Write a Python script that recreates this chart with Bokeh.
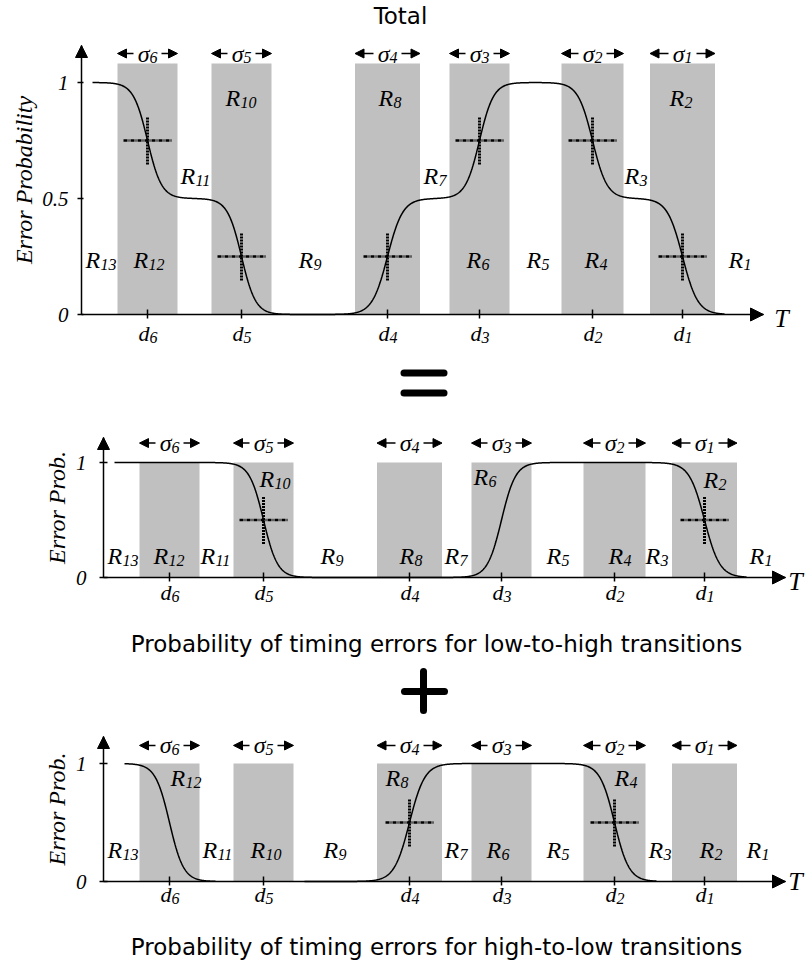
import numpy as np
from bokeh.plotting import figure
from bokeh.layouts import column
from bokeh.models import (ColumnDataSource, LabelSet, Label, Arrow, NormalHead,
                          FixedTicker, Range1d)
from bokeh.core.properties import value
from bokeh.embed import file_html
from bokeh.resources import INLINE

# ---------------- data ----------------
stage_ids = ["1", "2", "3", "4", "5", "6"]          # d1..d6 and sigma1..sigma6
d_pos = [601, 511, 398, 306, 160, 66]                # transition times d_i (T units)
sigma_w = [65, 62, 60, 65, 60, 60]                   # spread sigma_i (T units)

# transitions contained in each curve: (stage, +1 rise / -1 fall), curves start at 1
lh_steps = [("5", -1), ("3", +1), ("1", -1)]
hl_steps = [("6", -1), ("4", +1), ("2", -1)]
total_marked = ["6", "5", "4", "3", "2", "1"]
lh_marked = ["5", "1"]
hl_marked = ["4", "2"]

total_span = [(11, 643)]
lh_span = [(11, 643)]
hl_span = [(21, 112), (201, 553)]

region_ids = ["13", "12", "11", "10", "9", "8", "7", "6", "5", "4", "3", "2", "1"]
total_region_x = [4, 52, 99, 144, 217, 297, 342, 385, 445, 503, 543, 588, 647]
total_region_y = [0.233, 0.233, 0.595, 0.935, 0.233, 0.935, 0.595, 0.233, 0.233, 0.233, 0.595, 0.935, 0.233]
lh_region_x = [4, 50, 97, 156, 217, 296, 341, 370, 443, 505, 542, 600, 646]
lh_region_y = [0.185, 0.185, 0.185, 0.86, 0.185, 0.185, 0.185, 0.87, 0.185, 0.185, 0.185, 0.845, 0.185]
hl_region_x = [4, 67, 99, 147, 220, 282, 341, 383, 443, 511, 545, 596, 643]
hl_region_y = [0.271, 0.881, 0.271, 0.271, 0.271, 0.88, 0.271, 0.271, 0.271, 0.873, 0.271, 0.271, 0.271]

y_ticks_total = [0, 0.5, 1]
y_tick_labels_total = ["0", "0.5", "1"]
y_ticks_part = [0, 1]
y_tick_labels_part = ["0", "1"]

title_total = "Total"
caption_lh = "Probability of timing errors for low-to-high transitions"
caption_hl = "Probability of timing errors for high-to-low transitions"

# ---------------- style ----------------
SERIF = "Liberation Serif"
SANS = "DejaVu Sans"
BAND = "#c0c0c0"
AXIS_LEN = 682          # length of the T axis (T units == px)
FIG_W = 810


def sig(t, c, w):
    return 1.0 / (1.0 + np.exp(-(t - c) / (w / 8.5)))


def step_curve(t, steps):
    y = np.ones_like(t, dtype=float)
    for sid, sign in steps:
        i = stage_ids.index(sid)
        y = y + sign * sig(t, d_pos[i], sigma_w[i])
    return y


def lh_curve(t):
    return step_curve(t, lh_steps)


def hl_curve(t):
    return step_curve(t, hl_steps)


def total_curve(t):
    return 0.5 * (lh_curve(t) + hl_curve(t))


def sub_labels(p, xs, ys, mains, subs, ppu, main_size, sub_size, sub_dx, sub_dy_px,
               main_align="left"):
    src = ColumnDataSource(dict(
        x=list(xs), y=list(ys), t=list(mains),
        xs=[x + sub_dx for x in xs], ys=[y - sub_dy_px / ppu for y in ys], s=list(subs)))
    common = dict(text_font=value(SERIF), text_font_style="italic", text_color="black",
                  text_baseline="middle")
    p.add_layout(LabelSet(x="x", y="y", text="t", source=src, text_font_size=main_size,
                          text_align=main_align, **common))
    p.add_layout(LabelSet(x="xs", y="ys", text="s", source=src, text_font_size=sub_size,
                          text_align="left", **common))


def panel(height, axis_left_px, axis_zero_px, ppu, y_top, yticks, ytick_labels, ylabel,
          ytick_in, ytick_standoff, ylabel_standoff, band_top, sigma_y, d_y, t_xy,
          curve_fn, spans, marked, r_x, r_y):
    # the whole canvas is the frame; axes sit at fixed data locations inside it
    x_start = -axis_left_px
    y_start = -(height - axis_zero_px) / ppu
    p = figure(width=FIG_W, height=height, title=None,
               x_range=Range1d(x_start, x_start + FIG_W),
               y_range=Range1d(y_start, axis_zero_px / ppu),
               output_backend="svg", toolbar_location=None,
               min_border=0, min_border_left=0, min_border_right=0,
               min_border_top=0, min_border_bottom=0)
    p.outline_line_color = None
    p.grid.visible = False
    p.background_fill_color = "white"
    p.border_fill_color = "white"

    ya = p.yaxis[0]
    ya.fixed_location = 0
    ya.bounds = (0, y_top)
    ya.ticker = FixedTicker(ticks=yticks)
    ya.major_label_overrides = dict(zip(yticks, ytick_labels))
    ya.major_label_text_font = SERIF
    ya.major_label_text_font_style = "italic"
    ya.major_label_text_font_size = "21px"
    ya.major_label_text_color = "black"
    ya.major_label_standoff = ytick_standoff
    ya.major_tick_in = ytick_in
    ya.major_tick_out = 4
    ya.minor_tick_line_color = None
    ya.axis_label = ylabel
    ya.axis_label_text_font = SERIF
    ya.axis_label_text_font_style = "italic"
    ya.axis_label_text_font_size = "24px"
    ya.axis_label_text_color = "black"
    ya.axis_label_standoff = ylabel_standoff

    xa = p.xaxis[0]
    xa.fixed_location = 0
    xa.bounds = (0, AXIS_LEN)
    xa.ticker = FixedTicker(ticks=d_pos)
    xa.major_label_overrides = {dv: "" for dv in d_pos}
    xa.major_label_text_font_size = "0px"
    xa.major_label_standoff = 0
    xa.major_tick_in = 5
    xa.major_tick_out = 4
    xa.minor_tick_line_color = None
    for ax in (ya, xa):
        ax.axis_line_color = "black"
        ax.axis_line_width = 1.5
        ax.major_tick_line_color = "black"
        ax.major_tick_line_width = 1.5

    # axis arrow heads
    p.add_layout(Arrow(end=NormalHead(size=12, fill_color="black", line_color="black"),
                       x_start=0, y_start=y_top - 0.02, x_end=0, y_end=y_top,
                       line_color="black", line_width=1.5))
    p.add_layout(Arrow(end=NormalHead(size=13, fill_color="black", line_color="black"),
                       x_start=AXIS_LEN - 3, y_start=0, x_end=AXIS_LEN, y_end=0,
                       line_color="black", line_width=1.5))

    # sigma bands
    p.quad(left=[dv - w / 2 for dv, w in zip(d_pos, sigma_w)],
           right=[dv + w / 2 for dv, w in zip(d_pos, sigma_w)],
           bottom=0, top=band_top, fill_color=BAND, line_color=None)

    # curve
    for a, b in spans:
        t = np.arange(a, b + 0.01, 0.5)
        p.line(t, curve_fn(t), line_color="black", line_width=1.5)

    # crosses at marked transitions
    mx = [d_pos[stage_ids.index(s)] for s in marked]
    my = [float(curve_fn(np.array([float(x)]))[0]) for x in mx]
    p.segment(x0=[x - 24 for x in mx], y0=my, x1=[x + 24 for x in mx], y1=my,
              line_color="black", line_width=2.5, line_dash="4 1 1 1")
    p.segment(x0=mx, y0=[y - 24 / ppu for y in my], x1=mx, y1=[y + 24 / ppu for y in my],
              line_color="black", line_width=3, line_dash="2 1")

    # region labels
    sub_labels(p, r_x, r_y, ["R"] * len(region_ids), region_ids, ppu, "24px", "16px", 15, 4.5)

    # sigma labels with arrows
    sub_labels(p, [dv + 2 for dv in d_pos], [sigma_y] * 6, ["\u03c3"] * 6, stage_ids, ppu,
               "24px", "16px", 0, 4, main_align="right")
    asrc = ColumnDataSource(dict(
        xs=[dv - 14 for dv in d_pos] + [dv + 14 for dv in d_pos],
        xe=[dv - w / 2 for dv, w in zip(d_pos, sigma_w)] + [dv + w / 2 for dv, w in zip(d_pos, sigma_w)],
        y=[sigma_y] * 12))
    p.add_layout(Arrow(end=NormalHead(size=9, fill_color="black", line_color="black"),
                       x_start="xs", y_start="y", x_end="xe", y_end="y", source=asrc,
                       line_color="black", line_width=1.5))

    # d labels below the axis
    sub_labels(p, [dv + 2 for dv in d_pos], [d_y] * 6, ["d"] * 6, stage_ids, ppu,
               "22px", "16px", 0, 4, main_align="right")

    # T label
    p.add_layout(Label(x=t_xy[0], y=t_xy[1], text="T", text_font=SERIF,
                       text_font_style="italic", text_font_size="26px", text_color="black",
                       text_align="center", text_baseline="middle"))
    return p


def caption(p, text, x, y):
    p.add_layout(Label(x=x, y=y, text=text, text_font=SANS, text_font_size="23px",
                       text_color="black", text_align="center", text_baseline="middle"))


# top: total (figure spans page y 0..400, axis origin at page (81, 314))
PPU1 = 232
p1 = panel(400, 81, 314, PPU1, 269 / PPU1, y_ticks_total, y_tick_labels_total,
           "Error Probability", 2, 9, 2, 1.082, 1.125, -19 / PPU1, (700, -4 / PPU1),
           total_curve, total_span, total_marked, total_region_x, total_region_y)
caption(p1, title_total, 319, 299 / PPU1)
for yy in (-58.5 / PPU1, -78.5 / PPU1):
    p1.add_layout(Arrow(end=None, x_start=322.5, y_start=yy, x_end=362.5, y_end=yy,
                        line_color="black", line_width=7, line_cap="round"))

# middle: low-to-high (page y 400..665, axis origin at page (103, 577))
PPU2 = 115
p2 = panel(265, 103, 177, PPU2, 140 / PPU2, y_ticks_part, y_tick_labels_part, "Error Prob.",
           4, 13, 3, 1.0, 1.169, -15 / PPU2, (692, -4 / PPU2),
           lh_curve, lh_span, lh_marked, lh_region_x, lh_region_y)
caption(p2, caption_lh, 333, -66 / PPU2)

# bottom: high-to-low (page y 665..962, axis origin at page (103, 881))
PPU3 = 118
p3 = panel(297, 103, 216, PPU3, 145 / PPU3, y_ticks_part, y_tick_labels_part, "Error Prob.",
           4, 13, 3, 1.0, 1.153, -13 / PPU3, (692, 0.0),
           hl_curve, hl_span, hl_marked, hl_region_x, hl_region_y)
caption(p3, caption_hl, 333, -65 / PPU3)
p3.add_layout(Arrow(end=None, x_start=301, y_start=190 / PPU3, x_end=341, y_end=190 / PPU3,
                    line_color="black", line_width=7, line_cap="round"))
p3.add_layout(Arrow(end=None, x_start=320, y_start=171 / PPU3, x_end=320, y_end=210 / PPU3,
                    line_color="black", line_width=7, line_cap="round"))

layout = column(p1, p2, p3, spacing=0)
open("out.html", "w").write(file_html(layout, INLINE))
